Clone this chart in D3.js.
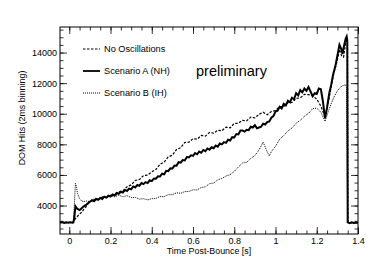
<!DOCTYPE html>
<html>
<head>
<meta charset="utf-8">
<script src="https://cdn.jsdelivr.net/npm/d3@7"></script>
<style>
  body { margin: 0; background: #fff; }
  text { font-family: "Liberation Sans", Arial, sans-serif; fill: #000; }
</style>
</head>
<body>
<div id="chart"></div>
<script>
// series: [time (s), DOM hits]
var noOsc = [
  [-0.045, 2880], [-0.03, 2900], [-0.015, 2870], [0.0, 2900], [0.015, 2890], [0.022, 2950],
  [0.03, 3150], [0.04, 3300], [0.05, 3450], [0.06, 3560], [0.07, 3750], [0.08, 3900],
  [0.09, 4100], [0.10, 4250], [0.12, 4380], [0.14, 4400], [0.16, 4560], [0.18, 4520],
  [0.20, 4690], [0.22, 4680], [0.24, 4900], [0.26, 4960], [0.28, 5230], [0.30, 5350],
  [0.32, 5640], [0.34, 5700], [0.36, 5960], [0.38, 5990], [0.40, 6200], [0.42, 6360],
  [0.44, 6700], [0.46, 6840], [0.48, 7180], [0.50, 7290], [0.52, 7660], [0.54, 7780],
  [0.56, 8120], [0.58, 8140], [0.60, 8370], [0.62, 8340], [0.64, 8580], [0.66, 8540],
  [0.68, 8780], [0.70, 8730], [0.72, 8920], [0.74, 8890], [0.76, 9120], [0.78, 9080],
  [0.80, 9360], [0.82, 9380], [0.84, 9570], [0.86, 9540], [0.88, 9780], [0.90, 9730],
  [0.92, 9960], [0.94, 10100], [0.96, 9940], [0.98, 10150], [1.00, 10210], [1.02, 10460],
  [1.04, 10480], [1.06, 10720], [1.08, 10740], [1.10, 11000], [1.12, 11040], [1.14, 11260],
  [1.16, 11250], [1.18, 11180], [1.20, 10950], [1.22, 10500], [1.24, 9800], [1.26, 11000],
  [1.28, 12500], [1.30, 13500], [1.31, 14200], [1.32, 13800], [1.33, 13700], [1.34, 14600],
  [1.345, 14900], [1.349, 14700], [1.351, 2900], [1.37, 2860], [1.40, 2880]
];

var scenarioA = [
  [-0.045, 2880], [-0.035, 2920], [-0.025, 2860], [-0.015, 2910], [-0.005, 2870], [0.005, 2910],
  [0.015, 2880], [0.02, 2900], [0.025, 3300], [0.03, 3950], [0.035, 3850], [0.04, 3780],
  [0.05, 3700], [0.06, 3820], [0.07, 3950], [0.08, 4020], [0.09, 4150], [0.10, 4250],
  [0.11, 4350], [0.12, 4280], [0.13, 4430], [0.14, 4380], [0.15, 4500], [0.16, 4430],
  [0.17, 4580], [0.18, 4520], [0.19, 4640], [0.20, 4590], [0.21, 4730], [0.22, 4660],
  [0.23, 4820], [0.24, 4770], [0.25, 4900], [0.26, 4850], [0.27, 5020], [0.28, 4950],
  [0.29, 5110], [0.30, 5060], [0.31, 5250], [0.32, 5180], [0.33, 5350], [0.34, 5290],
  [0.35, 5470], [0.36, 5400], [0.37, 5530], [0.38, 5470], [0.39, 5650], [0.40, 5600],
  [0.41, 5760], [0.42, 5750], [0.43, 5910], [0.44, 5900], [0.45, 6080], [0.46, 6040],
  [0.47, 6270], [0.48, 6250], [0.49, 6430], [0.50, 6420], [0.51, 6610], [0.52, 6600],
  [0.53, 6830], [0.54, 6800], [0.55, 6970], [0.56, 6950], [0.57, 7170], [0.58, 7150],
  [0.59, 7280], [0.60, 7250], [0.61, 7430], [0.62, 7350], [0.63, 7530], [0.64, 7450],
  [0.65, 7630], [0.66, 7550], [0.67, 7730], [0.68, 7650], [0.69, 7810], [0.70, 7750],
  [0.71, 7920], [0.72, 7850], [0.73, 8050], [0.74, 8000], [0.75, 8150], [0.76, 8100],
  [0.77, 8300], [0.78, 8250], [0.79, 8470], [0.80, 8450], [0.81, 8670], [0.82, 8650],
  [0.83, 8900], [0.84, 8900], [0.85, 8830], [0.86, 8950], [0.87, 8930], [0.88, 9150],
  [0.89, 9100], [0.90, 9250], [0.91, 9050], [0.92, 9100], [0.93, 9150], [0.94, 9350],
  [0.95, 9300], [0.96, 9450], [0.97, 9500], [0.98, 9750], [0.99, 9850], [1.00, 10150],
  [1.01, 10200], [1.02, 10450], [1.03, 10350], [1.04, 10650], [1.05, 10550], [1.06, 10850],
  [1.07, 10750], [1.08, 11050], [1.09, 10950], [1.10, 11350], [1.11, 11200], [1.12, 11550],
  [1.13, 11400], [1.14, 11650], [1.15, 11500], [1.16, 11750], [1.17, 11450], [1.18, 11150],
  [1.19, 11350], [1.20, 11300], [1.21, 11650], [1.22, 11600], [1.23, 10800], [1.24, 9700],
  [1.25, 10400], [1.26, 11300], [1.27, 11900], [1.28, 12600], [1.29, 13100], [1.30, 13800],
  [1.31, 14500], [1.32, 14200], [1.325, 13900], [1.33, 14300], [1.34, 14900], [1.345, 15050],
  [1.348, 14800], [1.35, 2900], [1.36, 2850], [1.37, 2900], [1.38, 2860], [1.39, 2890],
  [1.40, 2870]
];

var scenarioB = [
  [-0.045, 2900], [-0.03, 2880], [-0.015, 2910], [0.0, 2880], [0.015, 2900], [0.02, 2920],
  [0.025, 4200], [0.03, 5450], [0.035, 5200], [0.04, 4800], [0.05, 4450], [0.06, 4300],
  [0.07, 4250], [0.08, 4300], [0.10, 4260], [0.12, 4430], [0.14, 4410], [0.16, 4540],
  [0.18, 4510], [0.20, 4640], [0.22, 4570], [0.24, 4680], [0.26, 4570], [0.28, 4650],
  [0.30, 4520], [0.32, 4530], [0.34, 4420], [0.36, 4450], [0.38, 4370], [0.40, 4450],
  [0.42, 4470], [0.44, 4590], [0.46, 4590], [0.48, 4710], [0.50, 4710], [0.52, 4830],
  [0.54, 4800], [0.56, 4910], [0.58, 4920], [0.60, 5030], [0.62, 5020], [0.64, 5180],
  [0.66, 5220], [0.68, 5430], [0.70, 5470], [0.72, 5680], [0.74, 5770], [0.76, 5930],
  [0.78, 6020], [0.80, 6230], [0.82, 6520], [0.84, 6780], [0.86, 6820], [0.88, 7080],
  [0.90, 7270], [0.92, 7630], [0.94, 8150], [0.96, 7500], [0.97, 7250], [0.98, 7530],
  [1.00, 7870], [1.02, 8330], [1.04, 8570], [1.06, 8880], [1.08, 9070], [1.10, 9380],
  [1.12, 9570], [1.14, 9830], [1.16, 10020], [1.18, 10330], [1.20, 10370], [1.22, 10100],
  [1.24, 9500], [1.26, 10300], [1.28, 11000], [1.30, 11500], [1.32, 11800], [1.34, 11900],
  [1.345, 11700], [1.35, 2900], [1.37, 2870], [1.40, 2880]
];

var legendLabels = ["No Oscillations", "Scenario A (NH)", "Scenario B (IH)"];
var xTickValues = [0, 0.2, 0.4, 0.6, 0.8, 1, 1.2, 1.4];
var yTickValues = [4000, 6000, 8000, 10000, 12000, 14000];

var svgWidth = 374, svgHeight = 262;
var margin = { top: 27, right: 16, bottom: 28, left: 60 };
var width = svgWidth - margin.left - margin.right;
var height = svgHeight - margin.top - margin.bottom;

var svg = d3.select("#chart").append("svg")
  .attr("width", svgWidth)
  .attr("height", svgHeight);

var chartGroup = svg.append("g")
  .attr("transform", `translate(${margin.left}, ${margin.top})`);

var x = d3.scaleLinear().domain([-0.045, 1.4]).range([0, width]);
var y = d3.scaleLinear().domain([2140, 15670]).range([height, 0]);

// minor ticks every 0.05 s and 500 hits
var xMinor = d3.range(0, 1.4001, 0.05);
var yMinor = d3.range(2500, 15600, 500);

function tickAxis(axisFn, scale, values, size) {
  return axisFn(scale).tickValues(values).tickSizeInner(size).tickSizeOuter(0).tickFormat("");
}

// bottom
chartGroup.append("g").attr("transform", `translate(0, ${height})`)
  .call(tickAxis(d3.axisTop, x, xMinor, 3.5));
chartGroup.append("g").attr("transform", `translate(0, ${height})`)
  .call(tickAxis(d3.axisTop, x, xTickValues, 7));
chartGroup.append("g").attr("transform", `translate(0, ${height})`)
  .call(d3.axisBottom(x).tickValues(xTickValues).tickSize(0).tickPadding(4).tickFormat(d3.format("")));

// top
chartGroup.append("g").call(tickAxis(d3.axisBottom, x, xMinor, 3.5));
chartGroup.append("g").call(tickAxis(d3.axisBottom, x, xTickValues, 7));

// left
chartGroup.append("g").call(tickAxis(d3.axisRight, y, yMinor, 3.5));
chartGroup.append("g").call(tickAxis(d3.axisRight, y, yTickValues, 7));
chartGroup.append("g")
  .call(d3.axisLeft(y).tickValues(yTickValues).tickSize(0).tickPadding(3).tickFormat(d3.format("d")));

// right
chartGroup.append("g").attr("transform", `translate(${width}, 0)`)
  .call(tickAxis(d3.axisLeft, y, yMinor, 3.5));
chartGroup.append("g").attr("transform", `translate(${width}, 0)`)
  .call(tickAxis(d3.axisLeft, y, yTickValues, 7));

chartGroup.selectAll(".domain").remove();
chartGroup.selectAll(".tick line").attr("stroke", "#000").attr("stroke-width", 0.8);
chartGroup.selectAll(".tick text").attr("font-size", "9px").attr("fill", "#000");

// frame
chartGroup.append("rect")
  .attr("width", width)
  .attr("height", height)
  .attr("fill", "none")
  .attr("stroke", "#000")
  .attr("stroke-width", 1);

var line = d3.line()
  .x(d => x(d[0]))
  .y(d => y(d[1]));

chartGroup.append("path")
  .datum(scenarioB)
  .attr("d", line)
  .attr("fill", "none")
  .attr("stroke", "#000")
  .attr("stroke-width", 1)
  .attr("stroke-dasharray", "1,1");

chartGroup.append("path")
  .datum(noOsc)
  .attr("d", line)
  .attr("fill", "none")
  .attr("stroke", "#000")
  .attr("stroke-width", 1.2)
  .attr("stroke-dasharray", "2.5,1.5");

chartGroup.append("path")
  .datum(scenarioA)
  .attr("d", line)
  .attr("fill", "none")
  .attr("stroke", "#000")
  .attr("stroke-width", 2);

// legend
var dashes = ["2.5,1.5", null, "1,1"];
var widths = [1.1, 1.8, 1];
var legend = chartGroup.selectAll(".legend")
  .data(legendLabels)
  .enter()
  .append("g")
  .attr("transform", (d, i) => `translate(23, ${22 + i * 22})`);

legend.append("line")
  .attr("x1", 0).attr("x2", 17)
  .attr("stroke", "#000")
  .attr("stroke-width", (d, i) => widths[i])
  .attr("stroke-dasharray", (d, i) => dashes[i]);

legend.append("text")
  .attr("x", 21)
  .attr("y", 3.2)
  .attr("font-size", "9.2px")
  .text(d => d);

chartGroup.append("text")
  .attr("x", 136)
  .attr("y", 49)
  .attr("font-size", "14.5px")
  .text("preliminary");

// axis titles
svg.append("text")
  .attr("x", margin.left + width / 2)
  .attr("y", 254)
  .attr("text-anchor", "middle")
  .attr("font-size", "8.9px")
  .text("Time Post-Bounce [s]");

svg.append("text")
  .attr("transform", "translate(25, 118) rotate(-90)")
  .attr("text-anchor", "middle")
  .attr("font-size", "8.9px")
  .text("DOM Hits (2ms binning)");
</script>
</body>
</html>
